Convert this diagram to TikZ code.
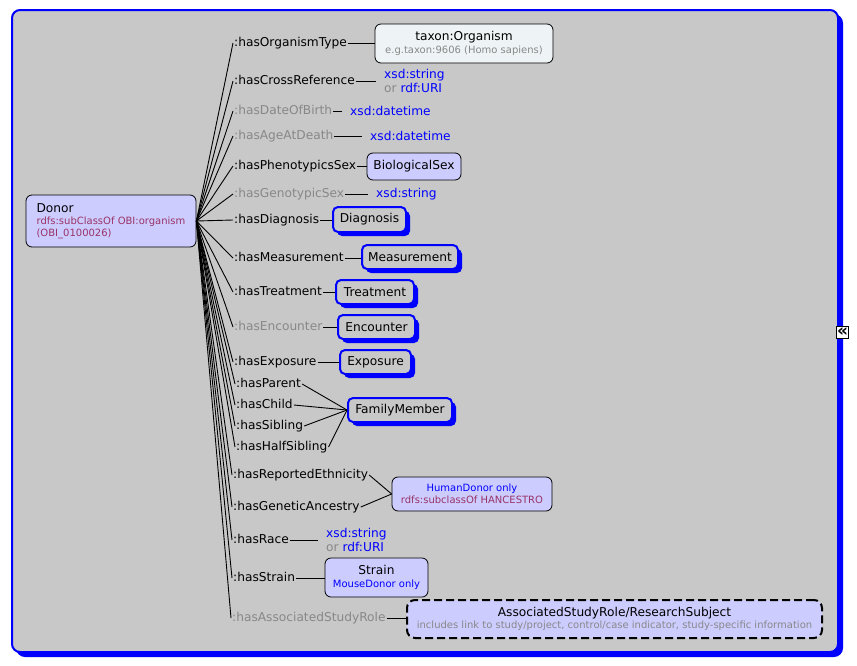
\documentclass[tikz,border=0pt]{standalone}
\usepackage{fontspec}
\setmainfont{DejaVu Sans}
\usetikzlibrary{shadows}
\definecolor{bggray}{RGB}{200,200,200}
\definecolor{lav}{RGB}{204,204,255}
\definecolor{pale}{RGB}{238,244,246}
\definecolor{txtgray}{RGB}{136,136,136}
\definecolor{purp}{RGB}{153,51,102}
\definecolor{myblue}{RGB}{0,0,255}
\newcommand\fbig{\fontsize{12.2}{14}\selectfont}
\newcommand\fsm{\fontsize{10}{12.5}\selectfont}
\newcommand\fval{\fontsize{12.2}{14.5}\selectfont}
\begin{document}
\begin{tikzpicture}[x=1pt,y=-1pt,
  lbl/.style={anchor=west,inner sep=1pt,font=\fbig,text height=9pt,text depth=2.5pt},
  glbl/.style={lbl,text=txtgray},
  val/.style={anchor=west,inner xsep=8pt,inner ysep=0pt,font=\fval,text=myblue,align=left},
  conn/.style={draw=black,line width=0.9pt},
  plainbox/.style={draw=black,line width=0.8pt,rounded corners=6pt,fill=lav,font=\fsm,inner sep=2pt,align=center},
  bluebox/.style={draw=myblue,line width=2pt,rounded corners=5pt,fill=bggray,font=\fbig,inner sep=2pt,
    drop shadow={shadow xshift=4pt,shadow yshift=-4pt,fill=myblue,opacity=1}},
  framebox/.style={draw=myblue,line width=2pt,fill=bggray,rounded corners=8pt}
]
\useasboundingbox (0,0) rectangle (857,665);
\fill[white] (0,0) rectangle (857,665);
% outer frame with shadow
\fill[myblue,rounded corners=9pt] (16,14) rectangle (843,657);
\draw[framebox] (12,10) rectangle (838,652);

% Donor
\node[plainbox,font=\fontsize{10}{12}\selectfont,align=left,minimum width=170pt,minimum height=52pt] (donor) at (111,221)
  {{\fbig Donor}\\\textcolor{purp}{rdfs:subClassOf OBI:organism}\\\textcolor{purp}{(OBI\_0100026)}};

% property labels
\node[lbl]  (l1)  at (233,43)  {:hasOrganismType};
\node[lbl]  (l2)  at (233,81)  {:hasCrossReference};
\node[glbl] (l3)  at (233,111) {:hasDateOfBirth};
\node[glbl] (l4)  at (233,136) {:hasAgeAtDeath};
\node[lbl]  (l5)  at (233,166) {:hasPhenotypicsSex};
\node[glbl] (l6)  at (233,194) {:hasGenotypicSex};
\node[lbl]  (l7)  at (233,220) {:hasDiagnosis};
\node[lbl]  (l8)  at (233,258) {:hasMeasurement};
\node[lbl]  (l9)  at (233,292) {:hasTreatment};
\node[glbl] (l10) at (233,327) {:hasEncounter};
\node[lbl]  (l11) at (233,362) {:hasExposure};
\node[lbl]  (l12) at (235,384) {:hasParent};
\node[lbl]  (l13) at (235,405) {:hasChild};
\node[lbl]  (l14) at (235,426) {:hasSibling};
\node[lbl]  (l15) at (235,447) {:hasHalfSibling};
\node[lbl]  (l16) at (232,475) {:hasReportedEthnicity};
\node[lbl]  (l17) at (232,507) {:hasGeneticAncestry};
\node[lbl]  (l18) at (232,540) {:hasRace};
\node[lbl]  (l19) at (232,578) {:hasStrain};
\node[glbl] (l20) at (231,618) {:hasAssociatedStudyRole};

% targets
\node[plainbox,fill=pale,minimum width=178pt,minimum height=39pt] (taxon) at (464,43.5)
  {{\fbig taxon:Organism}\\\textcolor{txtgray}{e.g.taxon:9606 (Homo sapiens)}};
\node[val] (v2) at (376,81) {xsd:string\\\textcolor{txtgray}{or} rdf:URI};
\node[val] (v3) at (342,111) {xsd:datetime};
\node[val] (v4) at (362,136) {xsd:datetime};
\node[plainbox,minimum width=94pt,minimum height=27pt] (bsex) at (414,166.5) {\fbig BiologicalSex};
\node[val] (v6) at (368,194) {xsd:string};
\node[bluebox,minimum width=73pt,minimum height=25pt] (diag) at (369.5,219.5) {Diagnosis};
\node[bluebox,minimum width=96pt,minimum height=24pt] (meas) at (410,257) {Measurement};
\node[bluebox,minimum width=78pt,minimum height=24pt] (treat) at (375,292) {Treatment};
\node[bluebox,minimum width=77pt,minimum height=24pt] (enc) at (376.5,327) {Encounter};
\node[bluebox,minimum width=71pt,minimum height=24pt] (expo) at (375.5,362) {Exposure};
\node[bluebox,minimum width=104pt,minimum height=24pt] (fam) at (400,410) {FamilyMember};
\node[plainbox,minimum width=160pt,minimum height=34pt] (human) at (472,494)
  {\textcolor{myblue}{HumanDonor only}\\\textcolor{purp}{rdfs:subclassOf HANCESTRO}};
\node[val] (v18) at (318,540) {xsd:string\\\textcolor{txtgray}{or} rdf:URI};
\node[plainbox,minimum width=103pt,minimum height=39pt] (strain) at (376.5,577.5)
  {{\fbig Strain}\\\textcolor{myblue}{MouseDonor only}};
\node[plainbox,line width=2pt,dash pattern=on 8pt off 4pt,rounded corners=8pt,minimum width=415pt,minimum height=38pt] (assoc) at (614.5,619)
  {{\fbig AssociatedStudyRole/ResearchSubject}\\\textcolor{txtgray}{includes link to study/project, control/case indicator, study-specific information}};

% expand icon
\node[draw=black,fill=white,line width=0.9pt,minimum size=12.5pt,inner sep=0pt,font=\fontsize{17}{17}\bfseries\selectfont] (expand) at (842.5,332.5) {\raisebox{-0.5pt}{«}};

% fan connectors
\foreach \i in {1,...,20} \draw[conn] (donor.east) -- (l\i.west);

% property to target connectors
\draw[conn] (l1.east) -- (l1.east -| taxon.west);
\draw[conn] (l2.east) -- (l2.east -| v2.west);
\draw[conn] (l3.east) -- (l3.east -| v3.west);
\draw[conn] (l4.east) -- (l4.east -| v4.west);
\draw[conn] (l5.east) -- (l5.east -| bsex.west);
\draw[conn] (l6.east) -- (l6.east -| v6.west);
\draw[conn] (l7.east) -- (l7.east -| diag.west);
\draw[conn] (l8.east) -- (l8.east -| meas.west);
\draw[conn] (l9.east) -- (l9.east -| treat.west);
\draw[conn] (l10.east) -- (l10.east -| enc.west);
\draw[conn] (l11.east) -- (l11.east -| expo.west);
\draw[conn] (l12.east) -- (fam.west);
\draw[conn] (l13.east) -- (fam.west);
\draw[conn] (l14.east) -- (fam.west);
\draw[conn] (l15.east) -- (fam.west);
\draw[conn] (l16.east) -- (human.west);
\draw[conn] (l17.east) -- (human.west);
\draw[conn] (l18.east) -- (l18.east -| v18.west);
\draw[conn] (l19.east) -- (l19.east -| strain.west);
\draw[conn] (l20.east) -- (l20.east -| assoc.west);
\end{tikzpicture}
\end{document}
